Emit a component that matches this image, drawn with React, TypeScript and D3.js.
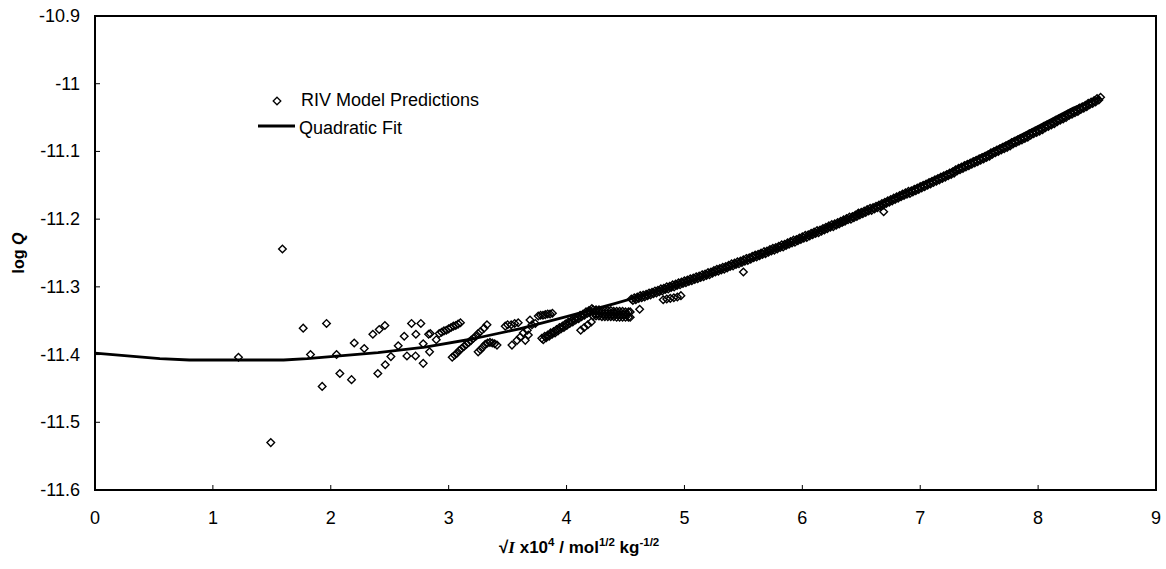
import React from "react";
import * as d3 from "d3";

// ---------- data ----------
const xTicks = [0, 1, 2, 3, 4, 5, 6, 7, 8, 9];
const yTicks = [-10.9, -11, -11.1, -11.2, -11.3, -11.4, -11.5, -11.6];
const yTickLabels = ["-10.9", "-11", "-11.1", "-11.2", "-11.3", "-11.4", "-11.5", "-11.6"];

const sparsePoints: [number, number][] = [
  [1.217, -11.404], [1.491, -11.53], [1.59, -11.244], [1.766, -11.361], [1.828, -11.4],
  [1.927, -11.447], [1.964, -11.354], [2.049, -11.4], [2.077, -11.428], [2.176, -11.437],
  [2.199, -11.383], [2.284, -11.391], [2.357, -11.37], [2.399, -11.428], [2.411, -11.363],
  [2.459, -11.357], [2.462, -11.415], [2.51, -11.403], [2.572, -11.387], [2.623, -11.373],
  [2.646, -11.402], [2.685, -11.354], [2.719, -11.402], [2.722, -11.37], [2.764, -11.354],
  [2.784, -11.413], [2.784, -11.384], [2.83, -11.37], [2.838, -11.396], [2.844, -11.369],
  [2.895, -11.378],
];

const chainPoints: [number, number][] = [
  // chain near 3.0 (upper)
  [2.92, -11.369], [2.94, -11.367], [2.96, -11.365], [2.98, -11.364], [3.0, -11.362],
  [3.02, -11.36], [3.04, -11.358], [3.06, -11.357], [3.08, -11.355], [3.1, -11.353],
  // rising chain 3.03 - 3.27
  [3.03, -11.404], [3.05, -11.401], [3.07, -11.398], [3.09, -11.394], [3.11, -11.391],
  [3.13, -11.388], [3.15, -11.385], [3.17, -11.382], [3.19, -11.379], [3.21, -11.376],
  [3.23, -11.373], [3.25, -11.369], [3.27, -11.366], [3.3, -11.361], [3.325, -11.356],
  // blob 3.25 - 3.41
  [3.25, -11.396], [3.27, -11.393], [3.29, -11.389], [3.31, -11.385], [3.33, -11.383],
  [3.35, -11.382], [3.37, -11.383], [3.39, -11.384], [3.41, -11.386],
  // cluster 3.5 - 3.7
  [3.48, -11.358], [3.5, -11.356], [3.53, -11.356], [3.56, -11.354], [3.59, -11.353],
  [3.537, -11.386], [3.58, -11.379], [3.607, -11.374], [3.633, -11.368], [3.65, -11.379],
  [3.676, -11.371], [3.667, -11.364], [3.69, -11.349], [3.735, -11.354], [3.707, -11.356],
  // upper chain 3.76 - 3.88
  [3.76, -11.343], [3.78, -11.342], [3.8, -11.342], [3.82, -11.341], [3.84, -11.34],
  [3.86, -11.34], [3.88, -11.339],
  [4.12, -11.364], [4.15, -11.36], [4.18, -11.356], [4.21, -11.352],
  [4.62, -11.333],
  [4.82, -11.319], [4.85, -11.318], [4.88, -11.317], [4.91, -11.316], [4.94, -11.315], [4.97, -11.313],
  [5.5, -11.278], [6.35, -11.203], [6.476, -11.191], [6.69, -11.189],
];

// lower rising chain 3.79 - 4.215 and flat band 4.22 - 4.54
const midBandPoints: [number, number][] = [
  [3.79, -11.376], [3.815, -11.373], [3.84, -11.371], [3.865, -11.368], [3.89, -11.366],
  [3.915, -11.363], [3.94, -11.36], [3.965, -11.358], [3.99, -11.355], [4.015, -11.352],
  [4.04, -11.35], [4.065, -11.347], [4.09, -11.345], [4.115, -11.342], [4.14, -11.34],
  [4.165, -11.337], [4.19, -11.335], [4.215, -11.332],
  [3.8025, -11.378], [3.8275, -11.375], [3.8525, -11.373], [3.8775, -11.37], [3.9025, -11.368],
  [3.9275, -11.365], [3.9525, -11.362], [3.9775, -11.36], [4.0025, -11.357], [4.0275, -11.354],
  [4.0525, -11.352], [4.0775, -11.349], [4.1025, -11.347], [4.1275, -11.344], [4.1525, -11.342],
  [4.1775, -11.339], [4.2025, -11.337],
  [4.225, -11.334], [4.25, -11.334], [4.275, -11.334], [4.3, -11.335], [4.325, -11.335],
  [4.35, -11.335], [4.375, -11.335], [4.4, -11.336], [4.425, -11.336], [4.45, -11.336],
  [4.475, -11.336], [4.5, -11.337], [4.525, -11.337], [4.54, -11.337],
  [4.2375, -11.339], [4.2625, -11.339], [4.2875, -11.339], [4.3125, -11.34], [4.3375, -11.34],
  [4.3625, -11.34], [4.3875, -11.34], [4.4125, -11.34], [4.4375, -11.341], [4.4625, -11.341],
  [4.4875, -11.341], [4.5125, -11.341],
  [4.225, -11.343], [4.25, -11.343], [4.275, -11.343], [4.3, -11.344], [4.325, -11.344],
  [4.35, -11.344], [4.375, -11.344], [4.4, -11.344], [4.425, -11.345], [4.45, -11.345],
  [4.475, -11.345], [4.5, -11.345], [4.525, -11.345], [4.54, -11.345],
];

const bandUpperPoints: [number, number][] = [
  [4.55, -11.318], [4.575, -11.316], [4.6, -11.315], [4.625, -11.313],
  [4.65, -11.312], [4.675, -11.311], [4.7, -11.309], [4.725, -11.308],
  [4.75, -11.306], [4.775, -11.305], [4.8, -11.303], [4.825, -11.302],
  [4.85, -11.3], [4.875, -11.299], [4.9, -11.297], [4.925, -11.296],
  [4.95, -11.294], [4.975, -11.293], [5.0, -11.291], [5.025, -11.29],
  [5.05, -11.288], [5.075, -11.287], [5.1, -11.285], [5.125, -11.284],
  [5.15, -11.282], [5.175, -11.281], [5.2, -11.279], [5.225, -11.278],
  [5.25, -11.276], [5.275, -11.274], [5.3, -11.273], [5.325, -11.271],
  [5.35, -11.27], [5.375, -11.268], [5.4, -11.266], [5.425, -11.265],
  [5.45, -11.263], [5.475, -11.262], [5.5, -11.26], [5.525, -11.258],
  [5.55, -11.257], [5.575, -11.255], [5.6, -11.253], [5.625, -11.252],
  [5.65, -11.25], [5.675, -11.248], [5.7, -11.247], [5.725, -11.245],
  [5.75, -11.243], [5.775, -11.242], [5.8, -11.24], [5.825, -11.238],
  [5.85, -11.237], [5.875, -11.235], [5.9, -11.233], [5.925, -11.231],
  [5.95, -11.23], [5.975, -11.228], [6.0, -11.226], [6.025, -11.224],
  [6.05, -11.223], [6.075, -11.221], [6.1, -11.219], [6.125, -11.217],
  [6.15, -11.216], [6.175, -11.214], [6.2, -11.212], [6.225, -11.21],
  [6.25, -11.208], [6.275, -11.207], [6.3, -11.205], [6.325, -11.203],
  [6.35, -11.201], [6.375, -11.199], [6.4, -11.197], [6.425, -11.196],
  [6.45, -11.194], [6.475, -11.192], [6.5, -11.19], [6.525, -11.188],
  [6.55, -11.186], [6.575, -11.184], [6.6, -11.183], [6.625, -11.181],
  [6.65, -11.179], [6.675, -11.177], [6.7, -11.175], [6.725, -11.173],
  [6.75, -11.171], [6.775, -11.169], [6.8, -11.167], [6.825, -11.165],
  [6.85, -11.163], [6.875, -11.161], [6.9, -11.159], [6.925, -11.158],
  [6.95, -11.156], [6.975, -11.154], [7.0, -11.152], [7.025, -11.15],
  [7.05, -11.148], [7.075, -11.146], [7.1, -11.144], [7.125, -11.142],
  [7.15, -11.14], [7.175, -11.138], [7.2, -11.136], [7.225, -11.134],
  [7.25, -11.132], [7.275, -11.13], [7.3, -11.127], [7.325, -11.125],
  [7.35, -11.123], [7.375, -11.121], [7.4, -11.119], [7.425, -11.117],
  [7.45, -11.115], [7.475, -11.113], [7.5, -11.111], [7.525, -11.109],
  [7.55, -11.107], [7.575, -11.105], [7.6, -11.102], [7.625, -11.1],
  [7.65, -11.098], [7.675, -11.096], [7.7, -11.094], [7.725, -11.092],
  [7.75, -11.09], [7.775, -11.087], [7.8, -11.085], [7.825, -11.083],
  [7.85, -11.081], [7.875, -11.079], [7.9, -11.077], [7.925, -11.074],
  [7.95, -11.072], [7.975, -11.07], [8.0, -11.068], [8.025, -11.066],
  [8.05, -11.063], [8.075, -11.061], [8.1, -11.059], [8.125, -11.057],
  [8.15, -11.054], [8.175, -11.052], [8.2, -11.05], [8.225, -11.048],
  [8.25, -11.045], [8.275, -11.043], [8.3, -11.041], [8.325, -11.039],
  [8.35, -11.036], [8.375, -11.034], [8.4, -11.032], [8.425, -11.029],
  [8.45, -11.027], [8.475, -11.025], [8.5, -11.022], [8.53, -11.02],
];

const bandLowerPoints: [number, number][] = [
  [4.5625, -11.32], [4.5875, -11.319], [4.6125, -11.317], [4.6375, -11.316],
  [4.6625, -11.315], [4.6875, -11.313], [4.7125, -11.312], [4.7375, -11.31],
  [4.7625, -11.309], [4.7875, -11.307], [4.8125, -11.306], [4.8375, -11.304],
  [4.8625, -11.303], [4.8875, -11.301], [4.9125, -11.3], [4.9375, -11.298],
  [4.9625, -11.297], [4.9875, -11.295], [5.0125, -11.294], [5.0375, -11.292],
  [5.0625, -11.291], [5.0875, -11.289], [5.1125, -11.288], [5.1375, -11.286],
  [5.1625, -11.285], [5.1875, -11.283], [5.2125, -11.282], [5.2375, -11.28],
  [5.2625, -11.278], [5.2875, -11.277], [5.3125, -11.275], [5.3375, -11.274],
  [5.3625, -11.272], [5.3875, -11.27], [5.4125, -11.269], [5.4375, -11.267],
  [5.4625, -11.266], [5.4875, -11.264], [5.5125, -11.262], [5.5375, -11.261],
  [5.5625, -11.259], [5.5875, -11.257], [5.6125, -11.256], [5.6375, -11.254],
  [5.6625, -11.252], [5.6875, -11.251], [5.7125, -11.249], [5.7375, -11.247],
  [5.7625, -11.246], [5.7875, -11.244], [5.8125, -11.242], [5.8375, -11.241],
  [5.8625, -11.239], [5.8875, -11.237], [5.9125, -11.235], [5.9375, -11.234],
  [5.9625, -11.232], [5.9875, -11.23], [6.0125, -11.228], [6.0375, -11.227],
  [6.0625, -11.225], [6.0875, -11.223], [6.1125, -11.221], [6.1375, -11.22],
  [6.1625, -11.218], [6.1875, -11.216], [6.2125, -11.214], [6.2375, -11.212],
  [6.2625, -11.211], [6.2875, -11.209], [6.3125, -11.207], [6.3375, -11.205],
  [6.3625, -11.203], [6.3875, -11.201], [6.4125, -11.2], [6.4375, -11.198],
  [6.4625, -11.196], [6.4875, -11.194], [6.5125, -11.192], [6.5375, -11.19],
  [6.5625, -11.188], [6.5875, -11.187], [6.6125, -11.185], [6.6375, -11.183],
  [6.6625, -11.181], [6.6875, -11.179], [6.7125, -11.177], [6.7375, -11.175],
  [6.7625, -11.173], [6.7875, -11.171], [6.8125, -11.169], [6.8375, -11.167],
  [6.8625, -11.165], [6.8875, -11.163], [6.9125, -11.162], [6.9375, -11.16],
  [6.9625, -11.158], [6.9875, -11.156], [7.0125, -11.154], [7.0375, -11.152],
  [7.0625, -11.15], [7.0875, -11.148], [7.1125, -11.146], [7.1375, -11.144],
  [7.1625, -11.142], [7.1875, -11.14], [7.2125, -11.138], [7.2375, -11.136],
  [7.2625, -11.134], [7.2875, -11.132], [7.3125, -11.129], [7.3375, -11.127],
  [7.3625, -11.125], [7.3875, -11.123], [7.4125, -11.121], [7.4375, -11.119],
  [7.4625, -11.117], [7.4875, -11.115], [7.5125, -11.113], [7.5375, -11.111],
  [7.5625, -11.109], [7.5875, -11.107], [7.6125, -11.104], [7.6375, -11.102],
  [7.6625, -11.1], [7.6875, -11.098], [7.7125, -11.096], [7.7375, -11.094],
  [7.7625, -11.092], [7.7875, -11.089], [7.8125, -11.087], [7.8375, -11.085],
  [7.8625, -11.083], [7.8875, -11.081], [7.9125, -11.079], [7.9375, -11.076],
  [7.9625, -11.074], [7.9875, -11.072], [8.0125, -11.07], [8.0375, -11.068],
  [8.0625, -11.065], [8.0875, -11.063], [8.1125, -11.061], [8.1375, -11.059],
  [8.1625, -11.056], [8.1875, -11.054], [8.2125, -11.052], [8.2375, -11.05],
  [8.2625, -11.047], [8.2875, -11.045], [8.3125, -11.043], [8.3375, -11.041],
  [8.3625, -11.038], [8.3875, -11.036], [8.4125, -11.034], [8.4375, -11.031],
  [8.4625, -11.029], [8.4875, -11.027], [8.515, -11.024],
];

const fitPoints: [number, number][] = [
  [0, -11.398], [0.15, -11.4], [0.35, -11.403], [0.55, -11.406], [0.8, -11.408],
  [1.2, -11.408], [1.6, -11.408], [1.8, -11.406], [2.0, -11.403], [2.4, -11.397],
  [2.8, -11.389], [3.2, -11.377], [3.6, -11.362], [4.0, -11.344], [4.4, -11.325],
  [4.8, -11.305], [5.2, -11.283], [5.6, -11.257], [6.0, -11.228], [6.4, -11.198],
  [6.8, -11.166], [7.2, -11.133], [7.6, -11.099], [8.0, -11.063], [8.3, -11.036],
  [8.53, -11.02],
];

const legendLabels = ["RIV Model Predictions", "Quadratic Fit"];

// ---------- layout ----------
const W = 1166;
const H = 569;
const left = 95;
const right = 1156;
const top = 16;
const bottom = 490;
const FONT = "'Liberation Sans', Arial, Helvetica, sans-serif";
const diamond = "M0,-3.8L3.8,0L0,3.8L-3.8,0Z";

export default function App() {
  const x = d3.scaleLinear().domain([0, 9]).range([left, right]);
  const y = d3.scaleLinear().domain([-11.6, -10.9]).range([bottom, top]);
  const line = d3
    .line<[number, number]>()
    .x((d) => x(d[0]))
    .y((d) => y(d[1]));
  const allPoints = [
    ...sparsePoints,
    ...chainPoints,
    ...midBandPoints,
    ...bandUpperPoints,
    ...bandLowerPoints,
  ];

  return (
    <div style={{ position: "absolute", left: 0, top: 0 }}>
      <svg width={W} height={H} style={{ display: "block", background: "#fff" }}>
        <rect x={0} y={0} width={W} height={H} fill="#fff" />
        {/* points */}
        <g>
          {allPoints.map((p, i) => (
            <path
              key={i}
              d={diamond}
              transform={`translate(${x(p[0])},${y(p[1])})`}
              fill="none"
              stroke="#000"
              strokeWidth={1.4}
            />
          ))}
        </g>
        {/* fit line */}
        <path d={line(fitPoints) || ""} fill="none" stroke="#000" strokeWidth={2.8} strokeLinejoin="round" />

        {/* frame */}
        <rect x={left} y={top} width={right - left} height={bottom - top} fill="none" stroke="#000" strokeWidth={2} />

        {/* y axis ticks */}
        {yTicks.map((t, i) => (
          <g key={"y" + i}>
            <line x1={left} x2={left + 5} y1={y(t)} y2={y(t)} stroke="#000" strokeWidth={1} />
            <text
              x={80}
              y={y(t)}
              textAnchor="end"
              dominantBaseline="central"
              fontFamily={FONT}
              fontSize={18}
              fill="#000"
            >
              {yTickLabels[i]}
            </text>
          </g>
        ))}
        {/* x axis ticks */}
        {xTicks.map((t, i) => (
          <g key={"x" + i}>
            <line x1={x(t)} x2={x(t)} y1={bottom} y2={bottom - 5} stroke="#000" strokeWidth={1} />
            <text x={x(t)} y={524} textAnchor="middle" fontFamily={FONT} fontSize={18} fill="#000">
              {t}
            </text>
          </g>
        ))}

        {/* y title */}
        <text
          transform={`translate(24,${(top + bottom) / 2}) rotate(-90)`}
          textAnchor="middle"
          fontFamily={FONT}
          fontSize={16}
          fontWeight="bold"
          fill="#000"
        >
          log <tspan fontStyle="italic">Q</tspan>
        </text>

        {/* x title */}
        <text x={499} y={553} fontFamily={FONT} fontSize={17} fontWeight="bold" fill="#000">
          √<tspan fontFamily="'Liberation Serif', 'Times New Roman', serif" fontStyle="italic">I</tspan>
          <tspan> x10</tspan>
          <tspan fontSize={11.5} dy={-7}>4</tspan>
          <tspan dy={7}> / mol</tspan>
          <tspan fontSize={11.5} dy={-7}>1/2</tspan>
          <tspan dy={7}> kg</tspan>
          <tspan fontSize={11.5} dy={-7}>-1/2</tspan>
        </text>

        {/* legend */}
        <path d={diamond} transform="translate(277,101)" fill="none" stroke="#000" strokeWidth={1.3} />
        <text x={301} y={106} fontFamily={FONT} fontSize={18} fill="#000">
          {legendLabels[0]}
        </text>
        <line x1={258} x2={295} y1={126} y2={126} stroke="#000" strokeWidth={2.8} />
        <text x={299} y={134} fontFamily={FONT} fontSize={18} fill="#000">
          {legendLabels[1]}
        </text>
      </svg>
    </div>
  );
}
